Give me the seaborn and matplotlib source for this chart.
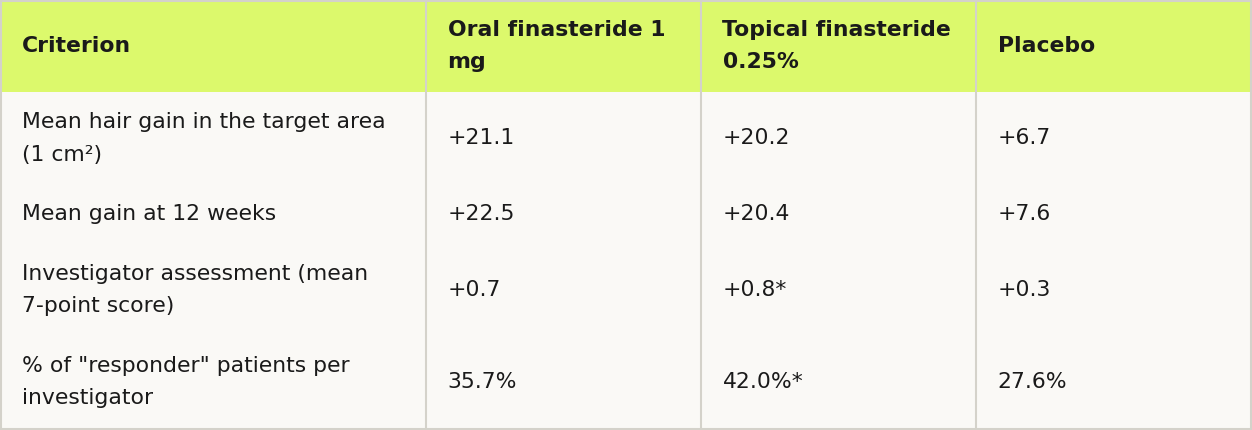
import matplotlib
matplotlib.use("Agg")
import matplotlib.pyplot as plt
from matplotlib.patches import Rectangle
import seaborn as sns
import pandas as pd

# ---- data ----
columns = ["Criterion", "Oral finasteride 1\nmg", "Topical finasteride\n0.25%", "Placebo"]
criteria = [
    "Mean hair gain in the target area\n(1 cm²)",
    "Mean gain at 12 weeks",
    "Investigator assessment (mean\n7-point score)",
    "% of \"responder\" patients per\ninvestigator",
]
oral = ["+21.1", "+22.5", "+0.7", "35.7%"]
topical = ["+20.2", "+20.4", "+0.8*", "42.0%*"]
placebo = ["+6.7", "+7.6", "+0.3", "27.6%"]

df = pd.DataFrame({columns[0]: criteria, columns[1]: oral,
                   columns[2]: topical, columns[3]: placebo})

# ---- style ----
sns.set_theme(style="white")
plt.rcParams["font.family"] = ["DejaVu Sans"]

HEADER_BG = "#dcf96c"
BODY_BG = "#faf9f6"
BORDER = "#d4d2ca"
TEXT = "#1a1a1a"

W, H = 1252, 430
col_w = [426, 275, 275, 276]
col_x = [sum(col_w[:i]) for i in range(len(col_w))]
PAD_X = 21.5
PAD_Y = 14
LINE_H = 32
ASC = 22.5
FS = 15.75  # ~22 px at 100 dpi

fig = plt.figure(figsize=(W / 100, H / 100), dpi=100)
ax = fig.add_axes([0, 0, 1, 1])
ax.set_xlim(0, W)
ax.set_ylim(H, 0)
ax.axis("off")
fig.patch.set_facecolor(BODY_BG)

rows = [list(df.columns)] + df.values.tolist()
y = 0
for r, row in enumerate(rows):
    nlines = max(len(str(c).split("\n")) for c in row)
    rh = 2 * PAD_Y + LINE_H * nlines
    ax.add_patch(Rectangle((0, y), W, rh + (1 if r == 0 else 0),
                           facecolor=HEADER_BG if r == 0 else BODY_BG,
                           edgecolor="none", zorder=0))
    for c, cell in enumerate(row):
        lines = str(cell).split("\n")
        top = y + (rh - LINE_H * len(lines)) / 2
        for i, ln in enumerate(lines):
            ax.text(col_x[c] + PAD_X, top + ASC + LINE_H * i, ln,
                    fontsize=FS, color=TEXT, va="baseline", ha="left",
                    fontweight="bold" if r == 0 else "normal", zorder=3)
    y += rh

# vertical dividers
for x in col_x[1:]:
    ax.plot([x, x], [0, H], color=BORDER, lw=1.5, zorder=2, solid_capstyle="butt")
# outer border
ax.add_patch(Rectangle((1, 1), W - 2, H - 2, facecolor="none", edgecolor=BORDER,
                       lw=1.5, zorder=4))
sns.despine(ax=ax, left=True, bottom=True)

fig.savefig("out.png", dpi=100, facecolor=BODY_BG)
